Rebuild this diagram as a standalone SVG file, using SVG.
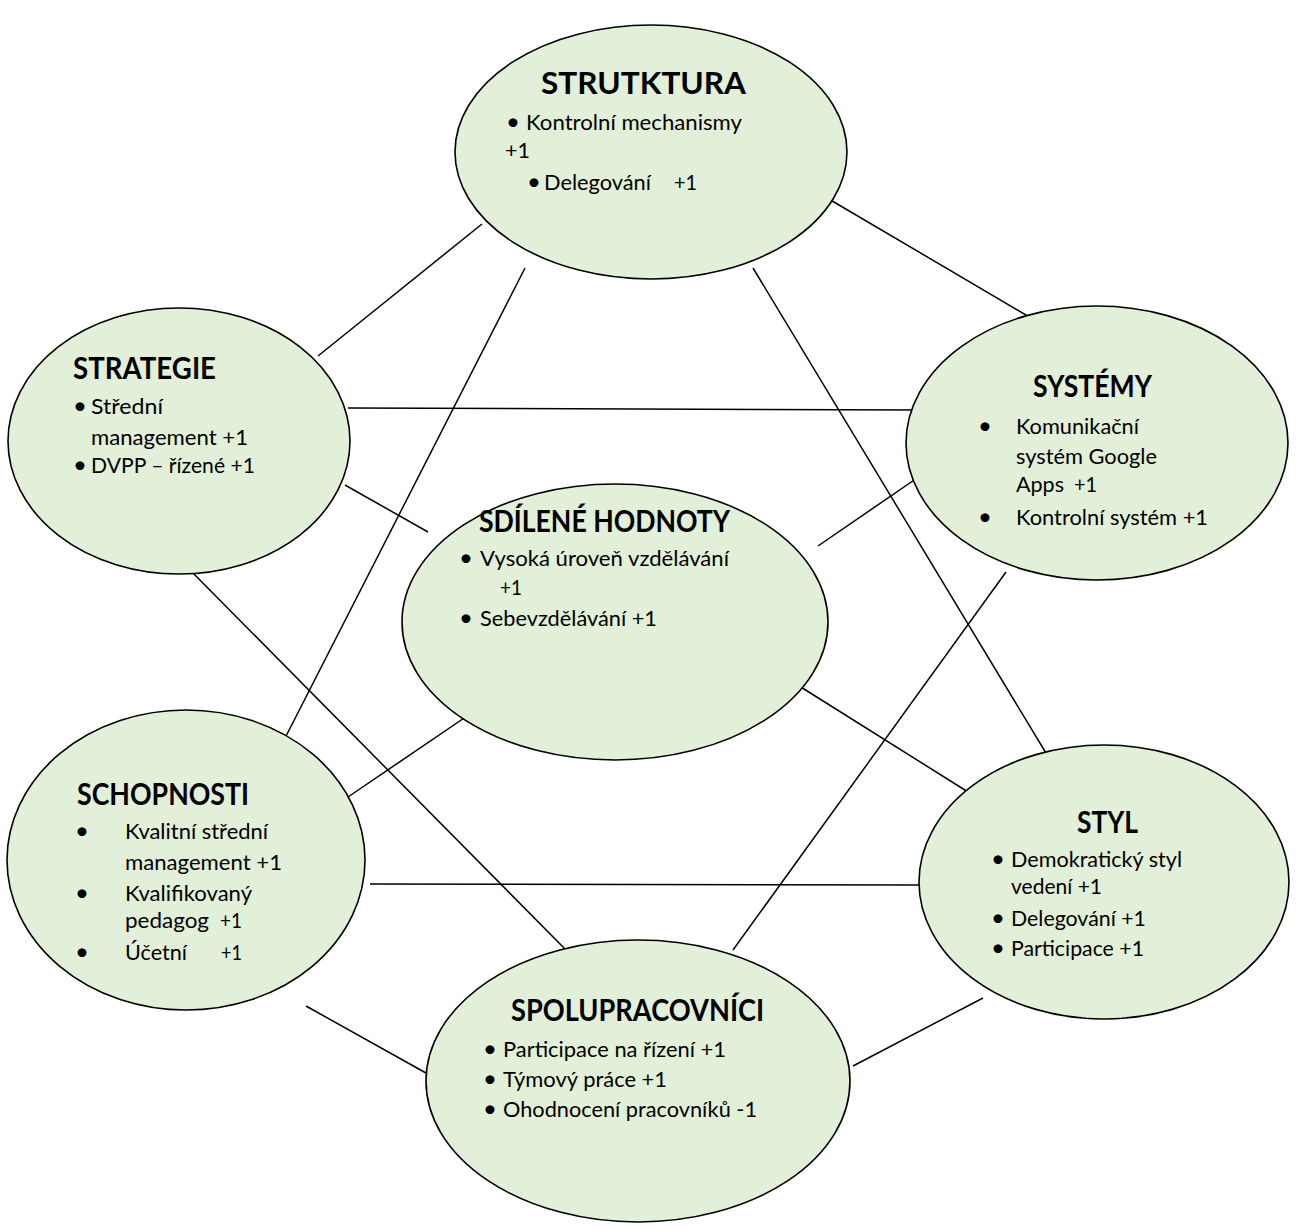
<svg xmlns="http://www.w3.org/2000/svg" width="1297" height="1230" viewBox="0 0 1297 1230">
<style>
.node ellipse{fill:#E2EFD9;stroke:#000;stroke-width:1.6}
.edges line{stroke:#000;stroke-width:1.5}
text{font-family:Lato,"Open Sans",sans-serif;fill:#000}
.t{font-weight:bold;font-size:30px}
.b{font-size:22px}
.d{font-size:24px}
</style>
<rect width="1297" height="1230" fill="#fff"/>
<g id="connectors" class="edges">
<line x1="318" y1="356" x2="482" y2="224"/>
<line x1="822" y1="195" x2="1060" y2="335"/>
<line x1="525" y1="268" x2="283" y2="742"/>
<line x1="753" y1="268" x2="1052" y2="763"/>
<line x1="348" y1="408" x2="920" y2="410"/>
<line x1="345" y1="485" x2="428" y2="532"/>
<line x1="190" y1="570" x2="566" y2="950"/>
<line x1="818" y1="546" x2="920" y2="476"/>
<line x1="1006" y1="572" x2="733" y2="950"/>
<line x1="473" y1="712" x2="348" y2="797"/>
<line x1="796" y1="684" x2="976" y2="797"/>
<line x1="370" y1="884" x2="920" y2="885"/>
<line x1="306" y1="1006" x2="426" y2="1073"/>
<line x1="853" y1="1066" x2="983" y2="998"/>
</g>
<g id="struktura" class="node">
<ellipse cx="651" cy="152" rx="196" ry="127"/>
<text class="t" x="541" y="94" textLength="205" lengthAdjust="spacingAndGlyphs">STRUTKTURA</text>
<text class="d" x="506" y="130">•</text>
<text class="b" x="526" y="130" textLength="216" lengthAdjust="spacingAndGlyphs">Kontrolní mechanismy</text>
<text class="b" x="505" y="158" textLength="25" lengthAdjust="spacingAndGlyphs">+1</text>
<text class="d" x="527" y="190">•</text>
<text class="b" x="544" y="190" textLength="107" lengthAdjust="spacingAndGlyphs">Delegování</text>
<text class="b" x="674" y="190" textLength="23" lengthAdjust="spacingAndGlyphs">+1</text>
</g>
<g id="strategie" class="node">
<ellipse cx="179" cy="441" rx="171" ry="133"/>
<text class="t" x="73" y="379" textLength="143" lengthAdjust="spacingAndGlyphs">STRATEGIE</text>
<text class="d" x="73" y="414">•</text>
<text class="b" x="91" y="414" textLength="72" lengthAdjust="spacingAndGlyphs">Střední</text>
<text class="b" x="91" y="445" textLength="157" lengthAdjust="spacingAndGlyphs">management +1</text>
<text class="d" x="73" y="473">•</text>
<text class="b" x="91" y="473" textLength="164" lengthAdjust="spacingAndGlyphs">DVPP – řízené +1</text>
</g>
<g id="systemy" class="node">
<ellipse cx="1097" cy="443" rx="191" ry="137"/>
<text class="t" x="1033" y="397" textLength="119" lengthAdjust="spacingAndGlyphs">SYSTÉMY</text>
<text class="d" x="978" y="434">•</text>
<text class="b" x="1016" y="434" textLength="123" lengthAdjust="spacingAndGlyphs">Komunikační</text>
<text class="b" x="1016" y="464" textLength="141" lengthAdjust="spacingAndGlyphs">systém Google</text>
<text class="b" x="1016" y="492" textLength="48" lengthAdjust="spacingAndGlyphs">Apps</text>
<text class="b" x="1074" y="492" textLength="23" lengthAdjust="spacingAndGlyphs">+1</text>
<text class="d" x="978" y="525">•</text>
<text class="b" x="1016" y="525" textLength="192" lengthAdjust="spacingAndGlyphs">Kontrolní systém +1</text>
</g>
<g id="sdilene-hodnoty" class="node">
<ellipse cx="615" cy="622" rx="213" ry="138"/>
<text class="t" x="479" y="532" textLength="251" lengthAdjust="spacingAndGlyphs">SDÍLENÉ HODNOTY</text>
<text class="d" x="459" y="566">•</text>
<text class="b" x="480" y="566" textLength="249" lengthAdjust="spacingAndGlyphs">Vysoká úroveň vzdělávání</text>
<text class="b" x="500" y="595" textLength="22" lengthAdjust="spacingAndGlyphs">+1</text>
<text class="d" x="459" y="626">•</text>
<text class="b" x="480" y="626" textLength="177" lengthAdjust="spacingAndGlyphs">Sebevzdělávání +1</text>
</g>
<g id="schopnosti" class="node">
<ellipse cx="186" cy="860" rx="179" ry="150"/>
<text class="t" x="77" y="805" textLength="172" lengthAdjust="spacingAndGlyphs">SCHOPNOSTI</text>
<text class="d" x="75" y="839">•</text>
<text class="b" x="125" y="839" textLength="143" lengthAdjust="spacingAndGlyphs">Kvalitní střední</text>
<text class="b" x="125" y="870" textLength="157" lengthAdjust="spacingAndGlyphs">management +1</text>
<text class="d" x="75" y="901">•</text>
<text class="b" x="125" y="901" textLength="127" lengthAdjust="spacingAndGlyphs">Kvalifikovaný</text>
<text class="b" x="125" y="928" textLength="84" lengthAdjust="spacingAndGlyphs">pedagog</text>
<text class="b" x="220" y="928" textLength="22" lengthAdjust="spacingAndGlyphs">+1</text>
<text class="d" x="75" y="960">•</text>
<text class="b" x="125" y="960" textLength="62" lengthAdjust="spacingAndGlyphs">Účetní</text>
<text class="b" x="221" y="960" textLength="21" lengthAdjust="spacingAndGlyphs">+1</text>
</g>
<g id="styl" class="node">
<ellipse cx="1104" cy="882" rx="185" ry="137"/>
<text class="t" x="1077" y="833" textLength="61" lengthAdjust="spacingAndGlyphs">STYL</text>
<text class="d" x="991" y="867">•</text>
<text class="b" x="1011" y="867" textLength="171" lengthAdjust="spacingAndGlyphs">Demokratický styl</text>
<text class="b" x="1011" y="894" textLength="91" lengthAdjust="spacingAndGlyphs">vedení +1</text>
<text class="d" x="991" y="926">•</text>
<text class="b" x="1011" y="926" textLength="135" lengthAdjust="spacingAndGlyphs">Delegování +1</text>
<text class="d" x="991" y="956">•</text>
<text class="b" x="1011" y="956" textLength="133" lengthAdjust="spacingAndGlyphs">Participace +1</text>
</g>
<g id="spolupracovnici" class="node">
<ellipse cx="638" cy="1081" rx="212" ry="141"/>
<text class="t" x="511" y="1021" textLength="253" lengthAdjust="spacingAndGlyphs">SPOLUPRACOVNÍCI</text>
<text class="d" x="483" y="1057">•</text>
<text class="b" x="503" y="1057" textLength="223" lengthAdjust="spacingAndGlyphs">Participace na řízení +1</text>
<text class="d" x="483" y="1087">•</text>
<text class="b" x="503" y="1087" textLength="164" lengthAdjust="spacingAndGlyphs">Týmový práce +1</text>
<text class="d" x="483" y="1117">•</text>
<text class="b" x="503" y="1117" textLength="254" lengthAdjust="spacingAndGlyphs">Ohodnocení pracovníků -1</text>
</g>
</svg>
